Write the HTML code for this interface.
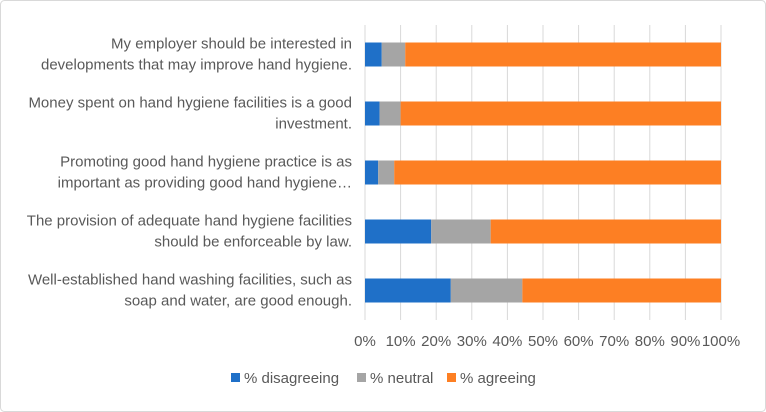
<!DOCTYPE html>
<html><head><meta charset="utf-8"><style>
body{margin:0;background:#fff;}
svg{display:block;font-family:"Liberation Sans",sans-serif;}
</style></head><body>
<svg width="766" height="412">
<rect x="0.5" y="0.5" width="765" height="411" rx="4" fill="#fff" stroke="#d9d9d9"/>
<g id="grid"></g><g id="bars"></g><g id="labels"></g><g id="ticks"></g>
<g font-size="15" fill="#595959">
<rect x="231" y="373" width="9" height="9" fill="#1f70c8"/>
<text x="244" y="383">% disagreeing</text>
<rect x="357" y="373" width="9" height="9" fill="#a5a5a5"/>
<text x="370" y="383">% neutral</text>
<rect x="447" y="373" width="9" height="9" fill="#fd7f23"/>
<text x="460" y="383">% agreeing</text>
</g>
</svg>
<script>
const categories=[["My employer should be interested in","developments that may improve hand hygiene."],["Money spent on hand hygiene facilities is a good","investment."],["Promoting good hand hygiene practice is as","important as providing good hand hygiene…"],["The provision of adequate hand hygiene facilities","should be enforceable by law."],["Well-established hand washing facilities, such as","soap and water, are good enough."]];
const disagreeing=[4.7,4.1,3.7,18.6,24.1];
const neutral=[6.6,5.9,4.5,16.7,20.1];
const agreeing=[88.7,90.0,91.8,64.7,55.8];
const tickLabels=["0%","10%","20%","30%","40%","50%","60%","70%","80%","90%","100%"];
const NS="http://www.w3.org/2000/svg";
const x0=365,x1=721,plotTop=25,step=59,bh=24;
const xs=v=>x0+(x1-x0)*v/100;
const yc=i=>plotTop+step*i+step/2;
function mk(t,a,p){const e=document.createElementNS(NS,t);for(const k in a)e.setAttribute(k,a[k]);document.getElementById(p).appendChild(e);return e;}
tickLabels.forEach((t,k)=>{
 const x=xs(k*10);
 const g=mk('line',{x1:x,x2:x,y1:plotTop,y2:plotTop+step*5,stroke:'#d9d9d9'},'grid');
 
 
 const tx=mk('text',{x:x,y:346,'text-anchor':'middle','font-size':15,fill:'#595959'},'ticks');
 tx.textContent=t;
 
 
});
const series=[[disagreeing,'#1f70c8','disagreeing'],[neutral,'#a5a5a5','neutral'],[agreeing,'#fd7f23','agreeing']];
categories.forEach((c,i)=>{
 let acc=0;
 series.forEach(([arr,col,nm])=>{
  const r=mk('rect',{x:xs(acc),y:yc(i)-bh/2,width:xs(acc+arr[i])-xs(acc),height:bh,fill:col},'bars');
  
  
  acc+=arr[i];
 });
 c.forEach((ln,j)=>{
  const t=mk('text',{x:352,y:yc(i)-6+j*21,'text-anchor':'end','font-size':15,fill:'#595959'},'labels');
  t.textContent=ln;
  
  
 });
});
</script>
</body></html>
